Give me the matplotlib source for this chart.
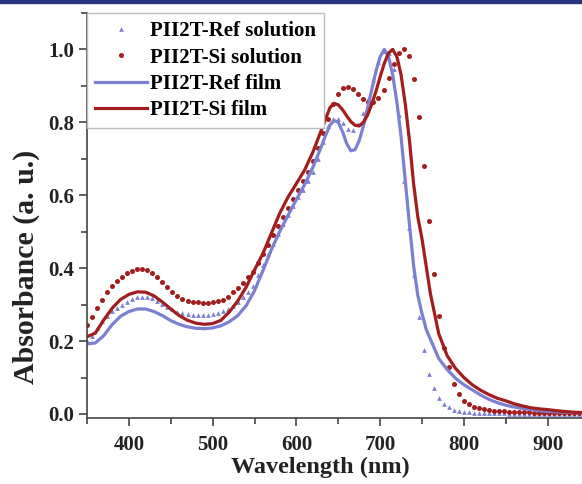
import numpy as np
import matplotlib.pyplot as plt
from matplotlib.ticker import MultipleLocator
from matplotlib.patches import Rectangle

# solution spectra (markers), sampled every 6 nm
sol_nm = list(range(350, 940, 6))

si_sol = [0.245, 0.265, 0.29, 0.312, 0.335, 0.352, 0.366, 0.377, 0.387, 0.393,
          0.397, 0.397, 0.394, 0.388, 0.376, 0.362, 0.347, 0.334, 0.324, 0.316,
          0.311, 0.308, 0.306, 0.305, 0.305, 0.306, 0.309, 0.314, 0.322, 0.334,
          0.346, 0.36, 0.375, 0.39, 0.413, 0.44, 0.463, 0.49, 0.515, 0.54,
          0.565, 0.59, 0.615, 0.64, 0.665, 0.695, 0.73, 0.77, 0.81, 0.85,
          0.878, 0.893, 0.898, 0.892, 0.878, 0.865, 0.856, 0.855, 0.866, 0.89,
          0.922, 0.96, 0.99, 1.0, 0.982, 0.92, 0.815, 0.68, 0.53, 0.385,
          0.27, 0.18, 0.13, 0.082, 0.054, 0.035, 0.026, 0.02, 0.016, 0.013,
          0.011, 0.009, 0.008, 0.007, 0.006, 0.006, 0.005, 0.005, 0.005, 0.004,
          0.004, 0.004, 0.004, 0.003, 0.003, 0.003, 0.003, 0.002, 0.002]

ref_sol = [0.2, 0.215, 0.237, 0.255, 0.27, 0.282, 0.292, 0.3, 0.308, 0.315,
           0.32, 0.322, 0.321, 0.317, 0.31, 0.302, 0.294, 0.287, 0.281, 0.277,
           0.274, 0.272, 0.271, 0.271, 0.272, 0.273, 0.277, 0.282, 0.289, 0.297,
           0.307, 0.32, 0.335, 0.352, 0.38, 0.41, 0.438, 0.465, 0.493, 0.52,
           0.545, 0.57, 0.595, 0.615, 0.64, 0.665, 0.7, 0.745, 0.79, 0.81,
           0.81, 0.797, 0.782, 0.78, 0.795, 0.825, 0.865, 0.915, 0.965, 0.997,
           0.99, 0.945, 0.82, 0.64, 0.51, 0.38, 0.265, 0.175, 0.11, 0.07,
           0.044, 0.027, 0.018, 0.012, 0.008, 0.006, 0.005, 0.004, 0.003, 0.003,
           0.002, 0.002, 0.002, 0.002, 0.001, 0.001, 0.001, 0.001, 0.001, 0.001,
           0.001, 0.001, 0.0, 0.0, 0.0, 0.0, 0.0, 0.0, 0.0]

# film spectra (lines)
film_nm = ([350, 360, 370, 380, 390, 400, 410, 420, 430, 440, 450, 460, 470,
            480, 490, 500, 510, 520, 530, 540, 550, 560, 570, 580, 590, 600,
            610, 620, 630]
           + list(range(635, 765, 5))
           + [770, 780, 790, 800, 810, 820, 830, 840, 850, 860, 870, 880, 890,
              900, 910, 920, 930, 940])

ref_film = [0.192, 0.195, 0.215, 0.245, 0.268, 0.281, 0.288, 0.288, 0.281, 0.27,
            0.256, 0.246, 0.239, 0.235, 0.234, 0.236, 0.242, 0.253, 0.27, 0.297,
            0.338, 0.393, 0.45, 0.5, 0.545, 0.588, 0.63, 0.678, 0.735,
            0.765, 0.792, 0.805, 0.8, 0.775, 0.742, 0.722, 0.725, 0.75, 0.79,
            0.84, 0.89, 0.94, 0.98, 1.0, 0.98, 0.93, 0.855, 0.76, 0.64,
            0.52, 0.405, 0.325, 0.275, 0.232, 0.205,
            0.152, 0.122, 0.098, 0.08, 0.066, 0.052, 0.04, 0.031, 0.024, 0.019,
            0.015, 0.012, 0.009, 0.007, 0.006, 0.005, 0.004, 0.003]

si_film = [0.212, 0.222, 0.258, 0.29, 0.314, 0.328, 0.335, 0.334, 0.324, 0.307,
           0.288, 0.27, 0.257, 0.249, 0.246, 0.248, 0.257, 0.28, 0.31, 0.348,
           0.395, 0.44, 0.495, 0.55, 0.595, 0.632, 0.67, 0.72, 0.78,
           0.81, 0.84, 0.852, 0.848, 0.835, 0.818, 0.802, 0.792, 0.79, 0.8,
           0.82, 0.85, 0.885, 0.925, 0.962, 0.99, 1.0, 0.98, 0.93, 0.85,
           0.75, 0.63, 0.54, 0.48, 0.405, 0.33,
           0.22, 0.16, 0.125, 0.1, 0.08, 0.065, 0.053, 0.043, 0.036, 0.028,
           0.022, 0.017, 0.014, 0.012, 0.009, 0.007, 0.005, 0.004]

blue = "#7c80d2"
red = "#a21d1d"

plt.rcParams["font.family"] = ["Liberation Serif", "DejaVu Serif"]
plt.rcParams["font.weight"] = "bold"

fig = plt.figure(figsize=(5.82, 4.84), dpi=100)
ax = fig.add_axes([0.1495, 0.1364, 0.8505, 0.8368])

ax.plot(sol_nm, ref_sol, "^", color=blue, ms=3.4, mew=0, label="PII2T-Ref solution")
ax.plot(sol_nm, si_sol, "o", color=red, ms=3.6, mew=0, label="PII2T-Si solution")
ax.plot(film_nm, ref_film, "-", color=blue, lw=2.3, label="PII2T-Ref film")
ax.plot(film_nm, si_film, "-", color=red, lw=2.3, label="PII2T-Si film")

ax.set_xlim(350, 941)
ax.set_ylim(-0.011, 1.1)
ax.xaxis.set_major_locator(MultipleLocator(100))
ax.xaxis.set_minor_locator(MultipleLocator(50))
ax.yaxis.set_major_locator(MultipleLocator(0.2))
ax.yaxis.set_minor_locator(MultipleLocator(0.1))
ax.set_yticks([0.0, 0.2, 0.4, 0.6, 0.8, 1.0])
ax.set_yticklabels(["0.0", "0.2", "0.4", "0.6", "0.8", "1.0"])
ax.set_xticks([400, 500, 600, 700, 800, 900])

for s in ["top", "right"]:
    ax.spines[s].set_visible(False)
for s in ["left", "bottom"]:
    ax.spines[s].set_color("#444444")
    ax.spines[s].set_linewidth(1.2)

ax.tick_params(which="major", direction="out", length=6, width=1.2, colors="#444444",
               labelsize=15, labelcolor="#222222", pad=3)
ax.tick_params(axis="x", which="major", pad=6)
ax.tick_params(which="minor", direction="out", length=4, width=1.2, colors="#444444")

ax.set_xlabel("Wavelength (nm)", fontsize=17.5, fontweight="bold", color="#222222")
ax.set_ylabel("Absorbance (a. u.)", fontsize=21.5, fontweight="bold", color="#222222")
ax.xaxis.set_label_coords(0.471, -0.123, transform=ax.transAxes)
ax.yaxis.set_label_coords(-0.123, 0.373, transform=ax.transAxes)
ax.xaxis.label.set_va("center")
ax.yaxis.label.set_va("center")

leg = ax.legend(loc="upper left", bbox_to_anchor=(0.0, 1.0), borderaxespad=0,
                fontsize=15, handlelength=2.5, handletextpad=0.1,
                labelspacing=0.3, borderpad=0.4, fancybox=False,
                framealpha=1, edgecolor="#bbbbbb", markerscale=1.0)
leg.get_frame().set_linewidth(1.0)

# navy rule across the top
fig.add_artist(Rectangle((0, 0.993), 1, 0.007, transform=fig.transFigure,
                         color="#26347a", zorder=10))

fig.savefig("out.png", dpi=100)
